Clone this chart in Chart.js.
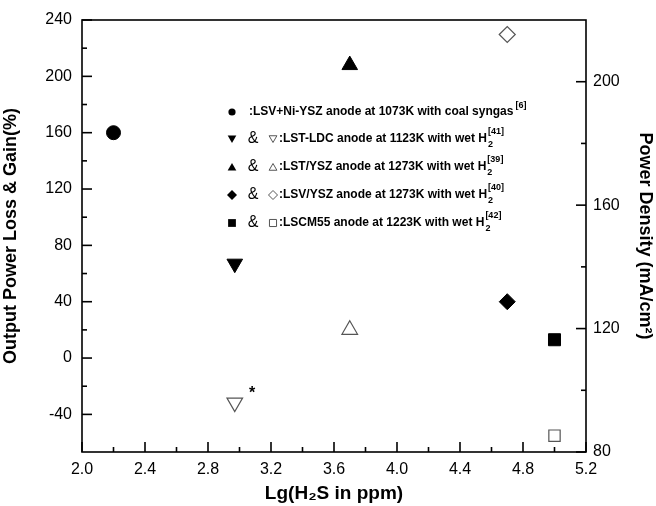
<!DOCTYPE html>
<html>
<head>
<meta charset="utf-8">
<script src="https://cdn.jsdelivr.net/npm/chart.js@4.4.0/dist/chart.umd.min.js"></script>
<style>
html, body { margin: 0; padding: 0; background: #fff; }
#wrap { width: 656px; height: 506px; }
</style>
</head>
<body>
<div id="wrap"><canvas id="chart" width="656" height="506"></canvas></div>
<script>
// filled marks -> left axis, open marks -> right axis
var lgH2S = [2.2, 2.97, 3.7, 4.7, 5.0];
var powerLossGain = [160, 67, 208, 40, 13];
var lgH2SOpen = [2.97, 3.7, 4.7, 5.0];
var powerDensity = [96, 119.6, 215.3, 85.3];

var legendTexts = [
    ":LSV+Ni-YSZ anode at 1073K with coal syngas",
    ":LST-LDC anode at 1123K with wet H",
    ":LST/YSZ anode at 1273K with wet H",
    ":LSV/YSZ anode at 1273K with wet H",
    ":LSCM55 anode at 1223K with wet H"
];
var legendRefs = ["[6]", "[41]", "[39]", "[40]", "[42]"];

var FONT = '"Liberation Sans", Arial, sans-serif';

function shape(ctx, style, rot, r, x, y) {
    ctx.beginPath();
    if (style == "circle") {
        ctx.arc(x, y, r, 0, Math.PI * 2);
    } else if (style == "triangle") {
        var a = rot * Math.PI / 180;
        for (var i = 0; i < 3; i++) {
            var ang = a + i * 2 * Math.PI / 3;
            var px = x + Math.sin(ang) * r, py = y - Math.cos(ang) * r;
            if (i == 0) ctx.moveTo(px, py); else ctx.lineTo(px, py);
        }
        ctx.closePath();
    } else if (style == "rectRot") {
        ctx.moveTo(x, y - r); ctx.lineTo(x + r, y); ctx.lineTo(x, y + r); ctx.lineTo(x - r, y);
        ctx.closePath();
    } else {
        var s = r * Math.SQRT1_2;
        ctx.rect(x - s, y - s, 2 * s, 2 * s);
    }
}

function mark(ctx, style, rot, r, x, y, filled) {
    ctx.save();
    shape(ctx, style, rot, r, x, y);
    if (filled) {
        ctx.fillStyle = "#000";
        ctx.fill();
    } else {
        ctx.fillStyle = "#fff";
        ctx.fill();
        ctx.strokeStyle = "#555";
        ctx.lineWidth = 1;
        ctx.stroke();
    }
    ctx.restore();
}

var legendStyles = [["circle", 0], ["triangle", 180], ["triangle", 0], ["rectRot", 0], ["rect", 0]];
var legendRowY = [112, 139, 167, 195, 223];

var framePlugin = {
    id: "frameTicks",
    afterDraw: function(chart) {
        var ctx = chart.ctx, a = chart.chartArea;
        ctx.save();
        ctx.strokeStyle = "#000";
        ctx.lineWidth = 1.6;
        ctx.strokeRect(a.left, a.top, a.right - a.left, a.bottom - a.top);

        function tick(x1, y1, x2, y2) {
            ctx.beginPath();
            ctx.moveTo(x1, y1);
            ctx.lineTo(x2, y2);
            ctx.stroke();
        }
        var sx = chart.scales.x;
        sx.ticks.forEach(function(t) {
            var k = Math.round(t.value * 10);
            if (k % 2 != 0) return;
            var len = (k % 4 == 0) ? 10 : 5;
            var px = sx.getPixelForValue(t.value);
            tick(px, a.bottom, px, a.bottom - len);
        });
        var sy = chart.scales.y;
        sy.ticks.forEach(function(t) {
            if (t.value % 20 != 0) return;
            var len = (t.value % 40 == 0) ? 10 : 5;
            var py = sy.getPixelForValue(t.value);
            tick(a.left, py, a.left + len, py);
        });
        var sy2 = chart.scales.y2;
        sy2.ticks.forEach(function(t) {
            if (t.value % 20 != 0 || t.value == 220) return;
            var len = (t.value % 40 == 0) ? 10 : 5;
            var py = sy2.getPixelForValue(t.value);
            tick(a.right, py, a.right - len, py);
        });

        // legend block inside the plot
        ctx.textBaseline = "middle";
        for (var i = 0; i < legendTexts.length; i++) {
            var y = legendRowY[i];
            var st = legendStyles[i];
            var r = st[0] == "circle" ? 3.6 : (st[0] == "rect" ? 5.5 : 5);
            mark(ctx, st[0], st[1], r, 232, st[0] == "triangle" ? y + (st[1] ? -1 : 1) : y, true);
            var tx;
            if (i == 0) {
                tx = 249;
            } else {
                ctx.fillStyle = "#000";
                ctx.font = "16px " + FONT;
                ctx.textAlign = "center";
                ctx.fillText("&", 253, y);
                mark(ctx, st[0], st[1], r - 0.5, 273, st[0] == "triangle" ? y + (st[1] ? -1 : 1) : y, false);
                tx = 279;
            }
            ctx.fillStyle = "#000";
            ctx.textAlign = "left";
            ctx.font = "bold 12px " + FONT;
            ctx.fillText(legendTexts[i], tx, y);
            var w = ctx.measureText(legendTexts[i]).width;
            ctx.font = "bold 9px " + FONT;
            if (i == 0) {
                ctx.fillText(legendRefs[i], tx + w + 2, y - 6);
            } else {
                ctx.fillText("2", tx + w + 1, y + 6);
                ctx.fillText(legendRefs[i], tx + w + 1, y - 7);
            }
        }

        ctx.font = "bold 16px " + FONT;
        ctx.textAlign = "center";
        ctx.fillText("*", 252, 394);
        ctx.restore();
    }
};

var filledPoints = lgH2S.map(function(x, i) { return { x: x, y: powerLossGain[i] }; });
var openPoints = lgH2SOpen.map(function(x, i) { return { x: x, y: powerDensity[i] }; });

var ctx = document.getElementById("chart").getContext("2d");
var chart = new Chart(ctx, {
    type: "scatter",
    data: {
        datasets: [{
                label: "Output power loss & gain",
                data: filledPoints,
                yAxisID: "y",
                pointStyle: ["circle", "triangle", "triangle", "rectRot", "rect"],
                rotation: [0, 180, 0, 0, 0],
                pointRadius: [7, 9, 9, 8, 8.5],
                backgroundColor: "#000",
                borderColor: "#000",
                borderWidth: 1
            },
            {
                label: "Power density",
                data: openPoints,
                yAxisID: "y2",
                pointStyle: ["triangle", "triangle", "rectRot", "rect"],
                rotation: [180, 0, 0, 0],
                pointRadius: [9, 9, 8, 8],
                backgroundColor: "#fff",
                borderColor: "#555",
                borderWidth: 1.2
            }
        ]
    },
    options: {
        responsive: false,
        animation: false,
        events: [],
        layout: { padding: { top: 20, left: 0, right: 0, bottom: 0 } },
        plugins: { legend: { display: false }, tooltip: { enabled: false } },
        scales: {
            x: {
                type: "linear",
                position: "bottom",
                min: 2.0,
                max: 5.2,
                grid: { display: false, drawTicks: false },
                border: { display: false },
                ticks: {
                    stepSize: 0.2,
                    autoSkip: false,
                    maxRotation: 0,
                    padding: 8,
                    color: "#000",
                    font: { family: FONT, size: 16 },
                    callback: function(v) {
                        return Math.round(v * 10) % 4 == 0 ? v.toFixed(1) : "";
                    }
                },
                title: {
                    display: true,
                    text: "Lg(H\u2082S in ppm)",
                    color: "#000",
                    font: { family: FONT, size: 19, weight: "bold" },
                    padding: { top: 0, bottom: 1 }
                },
                afterFit: function(s) { s.height = 54; }
            },
            y: {
                position: "left",
                min: -66.7,
                max: 240,
                grid: { display: false, drawTicks: false },
                border: { display: false },
                ticks: {
                    stepSize: 20,
                    autoSkip: false,
                    padding: 10,
                    color: "#000",
                    font: { family: FONT, size: 16 },
                    callback: function(v) {
                        return (v % 40 == 0) ? String(v) : "";
                    }
                },
                title: {
                    display: true,
                    text: "Output Power Loss & Gain(%)",
                    color: "#000",
                    font: { family: FONT, size: 18, weight: "bold" },
                    padding: { top: 0, bottom: 11 }
                },
                afterFit: function(s) { s.width = 82; }
            },
            y2: {
                position: "right",
                min: 80,
                max: 220,
                grid: { display: false, drawTicks: false },
                border: { display: false },
                ticks: {
                    stepSize: 20,
                    autoSkip: false,
                    padding: 7,
                    color: "#000",
                    font: { family: FONT, size: 16 },
                    callback: function(v) {
                        return (v % 40 == 0) ? String(v) : "";
                    }
                },
                title: {
                    display: true,
                    text: "Power Density (mA/cm\u00b2)",
                    color: "#000",
                    font: { family: FONT, size: 18, weight: "bold" },
                    padding: { top: 0, bottom: 3 }
                },
                afterFit: function(s) { s.width = 70; }
            }
        }
    },
    plugins: [framePlugin]
});
</script>
</body>
</html>
